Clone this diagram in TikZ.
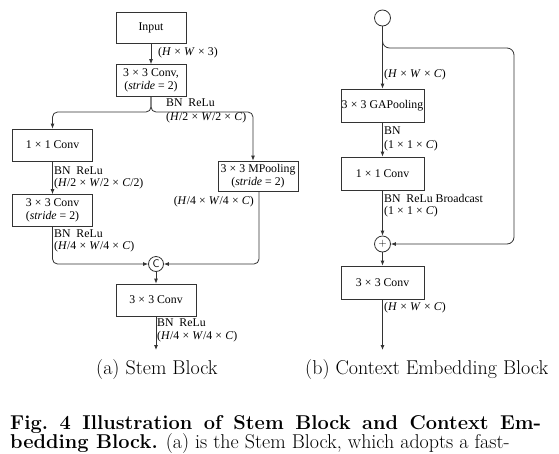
\documentclass[tikz,border=0pt]{standalone}
\usepackage{fontspec}
\newfontfamily\tms{Liberation Serif}
\usetikzlibrary{arrows.meta}
\newcommand\X{\hspace{0.27em}×\hspace{0.27em}}
\newcommand\vi[1]{\textit{#1}}
\begin{document}
\begin{tikzpicture}[x=1pt,y=-1pt,
  lc/.style={draw=black!80,line width=0.8pt},
  arr/.style={lc,-{Latex[length=5pt,width=4pt]}},
  blk/.style={lc,fill=white,inner sep=0pt,align=center,font=\tms\fontsize{11.8}{13.5}\selectfont},
  circ/.style={lc,fill=white,circle,inner sep=0pt,minimum size=#1,font=\fontsize{11}{12}\selectfont},
  lab/.style={anchor=west,inner sep=0pt,font=\tms\fontsize{11.8}{13.5}\selectfont},
  captxt/.style={anchor=base west,inner sep=0pt,font=\fontsize{20}{24}\selectfont}]
\useasboundingbox (0,0) rectangle (559,453);
\fill[white] (0,0) rectangle (559,453);
% ---- Stem block ----
\node[blk,minimum width=70pt,minimum height=31pt] (in) at (151,28) {Input};
\node[blk,minimum width=70pt,minimum height=32pt] (cv1) at (151,80.5) {3\X3 Conv,\\(\vi{stride} = 2)};
\node[blk,minimum width=80pt,minimum height=32pt] (c11) at (52.5,145) {1\X1 Conv};
\node[blk,minimum width=80pt,minimum height=32pt] (c33) at (52.5,210.5) {3\X3 Conv\\(\vi{stride} = 2)};
\node[blk,minimum width=80pt,minimum height=30pt] (mp) at (258,176) {3\X3 MPooling\\(\vi{stride} = 2)};
\node[circ=15pt] (cat) at (156,264) {\sffamily C};
\node[blk,minimum width=80pt,minimum height=32pt] (cv3) at (156,300) {3\X3 Conv};
\coordinate (aout) at (156,350);
\coordinate (split) at (151,112);
\draw[arr] (in) -- (cv1);
\draw[arr,rounded corners=5pt] (cv1.south) -- (split) -| (c11.north);
\draw[arr,rounded corners=5pt] (cv1.south) -- (split) -| ([xshift=-5pt]mp.north);
\draw[arr] (c11) -- (c33);
\draw[arr,rounded corners=5pt] (c33.south) |- (cat.west);
\draw[arr,rounded corners=5pt] ([xshift=1pt]mp.south) |- (cat.east);
\draw[arr] (cat) -- (cv3);
\draw[arr] (cv3) -- (aout);
\node[lab] (l1) at (158,53) {(\vi{H}\X\vi{W}\X3)};
\node[lab] (l2) at (166,103) {BN\ \ ReLu};
\node[lab] (l3) at (166,118) {(\vi{H}/2\X\vi{W}/2\X\vi{C})};
\node[lab] (l4) at (54,171) {BN\ \ ReLu};
\node[lab] (l5) at (54,184) {(\vi{H}/2\X\vi{W}/2\X\vi{C}/2)};
\node[lab] (l6) at (54,234) {BN\ \ ReLu};
\node[lab] (l7) at (54,247) {(\vi{H}/4\X\vi{W}/4\X\vi{C})};
\node[lab,anchor=east] (l8) at (254,202) {(\vi{H}/4\X\vi{W}/4\X\vi{C})};
\node[lab] (l9) at (157,323) {BN\ \ ReLu};
\node[lab] (l10) at (157,337) {(\vi{H}/4\X\vi{W}/4\X\vi{C})};
% ---- Context embedding block ----
\node[circ=16pt] (inc) at (382.5,18) {};
\node[blk,minimum width=83pt,minimum height=33pt] (gap) at (382.5,105.5) {3\X3 GAPooling};
\node[blk,minimum width=83pt,minimum height=33pt] (c11b) at (382.5,173.5) {1\X1 Conv};
\node[circ=16pt] (plus) at (382.5,244) {+};
\node[blk,minimum width=83pt,minimum height=33pt] (cvb) at (382.5,282.5) {3\X3 Conv};
\coordinate (bout) at (382.5,350);
\coordinate (skc) at (514,48);
\draw[arr] (inc) -- (gap);
\draw[arr] (gap) -- (c11b);
\draw[arr] (c11b) -- (plus);
\draw[arr] (plus) -- (cvb);
\draw[arr] (cvb) -- (bout);
\draw[arr,rounded corners=7pt] (inc.south) |- (skc) |- (plus.east);
\node[lab] (r1) at (384,75) {(\vi{H}\X\vi{W}\X\vi{C})};
\node[lab] (r2) at (384,131) {BN};
\node[lab] (r3) at (384,146) {(1\X1\X\vi{C})};
\node[lab] (r4) at (384,198) {BN\ \ ReLu Broadcast};
\node[lab] (r5) at (384,212) {(1\X1\X\vi{C})};
\node[lab] (r6) at (384,308) {(\vi{H}\X\vi{W}\X\vi{C})};
% ---- captions ----
\node[captxt] (ca) at (96,374) {(a) Stem Block};
\node[captxt] (cb) at (305,374) {(b) Context Embedding Block};
\node[captxt] (f1) at (10,429) {\makebox[531pt][s]{\bfseries\frenchspacing Fig.\ 4 Illustration of Stem Block and Context Em-}};
\node[captxt] (f2) at (10,448) {\textbf{bedding Block.} (a) is the Stem Block, which adopts a fast-};
\end{tikzpicture}
\end{document}
